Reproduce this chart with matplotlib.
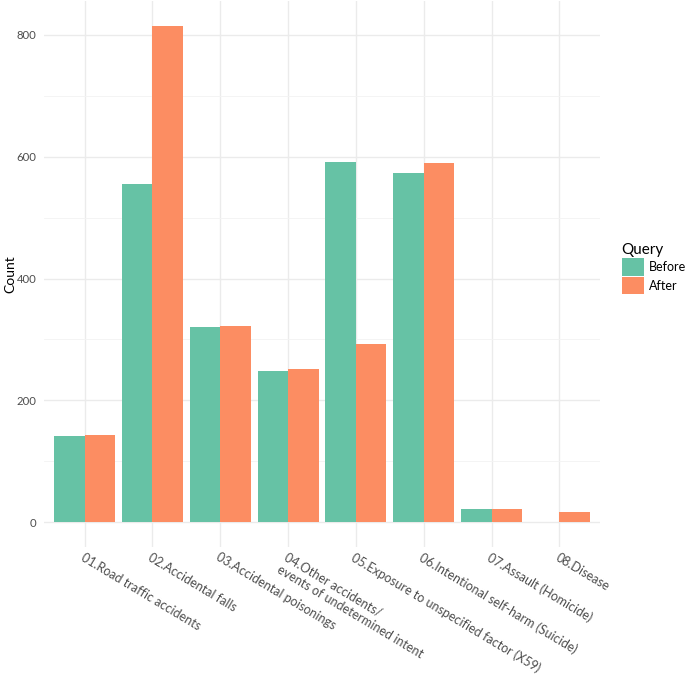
import numpy as np
import matplotlib
matplotlib.use('Agg')
import matplotlib.pyplot as plt
from matplotlib.patches import Patch

plt.rcParams['font.family'] = ['Lato', 'DejaVu Sans']

# Data
categories = ['01.Road traffic accidents',
              '02.Accidental falls',
              '03.Accidental poisonings',
              '04.Other accidents/\nevents of undetermined intent',
              '05.Exposure to unspecified factor (X59)',
              '06.Intentional self-harm (Suicide)',
              '07.Assault (Homicide)',
              '08.Disease']
before = [141, 556, 320, 249, 591, 574, 21, 0]
after = [143, 815, 322, 252, 293, 590, 21, 17]
series_names = ['Before', 'After']
colors = ['#66C2A5', '#FC8D62']

fig = plt.figure(figsize=(6.85, 6.75), dpi=100)
ax = fig.add_axes([0.0642, 0.1896, 0.8118, 0.8089])

x = np.arange(len(categories))
w = 0.45
ax.bar(x - w/2, before, width=w, color=colors[0], zorder=2)
ax.bar(x + w/2, after, width=w, color=colors[1], zorder=2)

ymax = max(max(before), max(after))
ax.set_ylim(-0.05*ymax, 1.05*ymax)
ax.set_xlim(-0.6, len(categories) - 0.4)

ax.set_yticks([0, 200, 400, 600, 800])
ax.set_yticks([100, 300, 500, 700], minor=True)
ax.set_xticks(x)
ax.set_xticklabels(categories, rotation=-31, ha='left', va='top',
                   rotation_mode='anchor', multialignment='left')

for s in ax.spines.values():
    s.set_visible(False)
ax.tick_params(axis='both', which='both', length=0, labelcolor='#4D4D4D')
ax.tick_params(axis='x', pad=3, labelsize=9.0)
ax.tick_params(axis='y', pad=5.5, labelsize=8.2)
ax.grid(True, which='major', color='#EBEBEB', linewidth=1.0, zorder=0)
ax.grid(True, which='minor', axis='y', color='#F3F3F3', linewidth=0.6, zorder=0)
ax.set_axisbelow(True)

ax.set_ylabel('Count', fontsize=10, color='black')
ax.yaxis.set_label_coords(-0.050, 0.5)

handles = [Patch(facecolor=c, edgecolor='none') for c in colors]
leg = fig.legend(handles, series_names, title='Query', loc='upper left',
                 bbox_to_anchor=(0.893, 0.655), frameon=False, fontsize=9,
                 title_fontsize=11, handlelength=1.75, handleheight=1.75,
                 handletextpad=0.45, labelspacing=0.12, borderpad=0.3)
leg._legend_box.align = 'left'

fig.savefig('out.png', dpi=100)
